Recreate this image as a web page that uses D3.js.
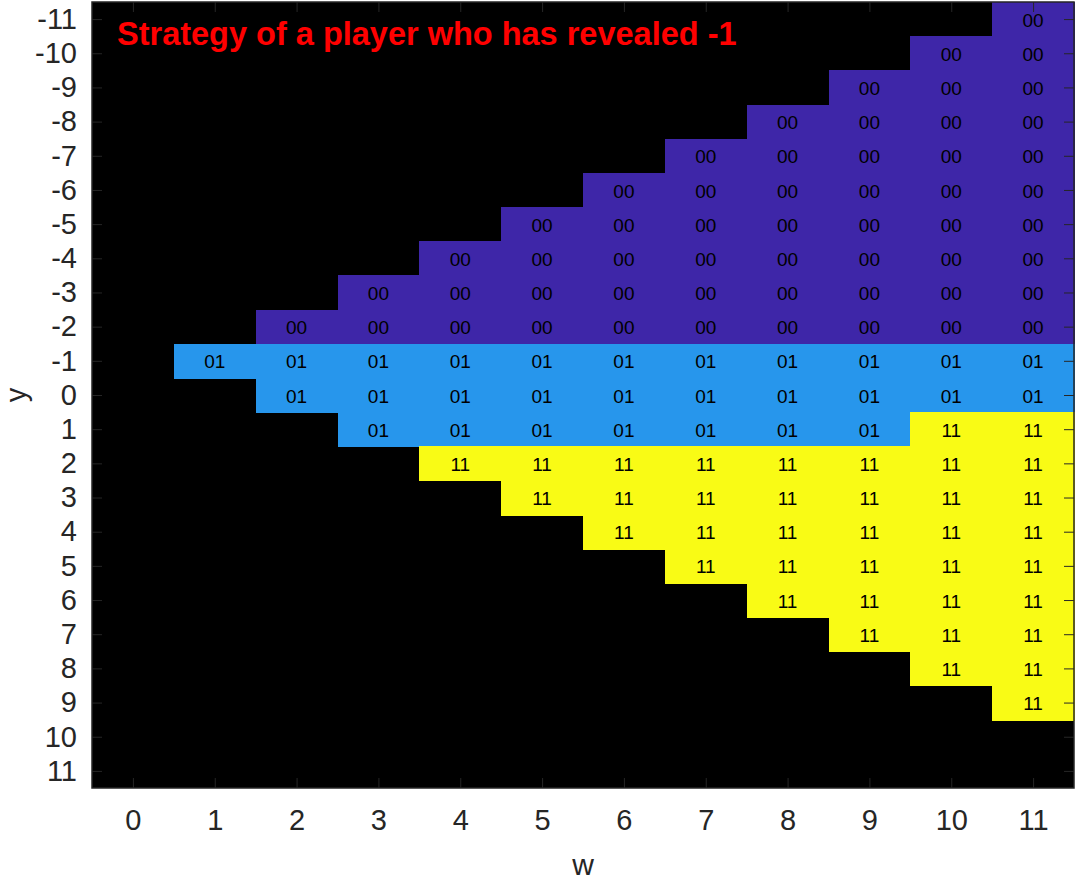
<!DOCTYPE html>
<html>
<head>
<meta charset="utf-8">
<script src="https://cdn.jsdelivr.net/npm/d3@7"></script>
<style>
  body { margin: 0; background: #fff; }
  svg text { font-family: "Liberation Sans", Arial, sans-serif; }
</style>
</head>
<body>
<div id="chart"></div>
<script>
// axis values
const wValues = [0, 1, 2, 3, 4, 5, 6, 7, 8, 9, 10, 11];
const yValues = [-11, -10, -9, -8, -7, -6, -5, -4, -3, -2, -1, 0, 1, 2, 3, 4, 5, 6, 7, 8, 9, 10, 11];

// first y of each column (w), then the codes going down
const colStart = [0, -1, -2, -3, -4, -5, -6, -7, -8, -9, -10, -11];
const colCodes = [
  [],
  ["01"],
  ["00", "01", "01"],
  ["00", "00", "01", "01", "01"],
  ["00", "00", "00", "01", "01", "01", "11"],
  ["00", "00", "00", "00", "01", "01", "01", "11", "11"],
  ["00", "00", "00", "00", "00", "01", "01", "01", "11", "11", "11"],
  ["00", "00", "00", "00", "00", "00", "01", "01", "01", "11", "11", "11", "11"],
  ["00", "00", "00", "00", "00", "00", "00", "01", "01", "01", "11", "11", "11", "11", "11"],
  ["00", "00", "00", "00", "00", "00", "00", "00", "01", "01", "01", "11", "11", "11", "11", "11", "11"],
  ["00", "00", "00", "00", "00", "00", "00", "00", "00", "01", "01", "11", "11", "11", "11", "11", "11", "11", "11"],
  ["00", "00", "00", "00", "00", "00", "00", "00", "00", "00", "01", "01", "11", "11", "11", "11", "11", "11", "11", "11", "11"]
];

const codeKeys = ["00", "01", "11"];
const codeColors = ["#3e26a8", "#2796ec", "#f9fb15"];

const title = "Strategy of a player who has revealed -1";

// build cells
let cells = [];
colCodes.forEach((codes, i) => {
  codes.forEach((c, j) => {
    cells.push({ w: wValues[i], y: colStart[i] + j, code: c });
  });
});

const width = 1076, height = 881;
const margin = { top: 2, right: 2, bottom: 93, left: 92 };
const pw = width - margin.left - margin.right;
const ph = height - margin.top - margin.bottom;

let svg = d3.select("#chart").append("svg")
  .attr("width", width).attr("height", height);

let g = svg.append("g").attr("transform", "translate(" + margin.left + "," + margin.top + ")");

let xScale = d3.scaleLinear().domain([-0.5, 11.5]).range([0, pw]);
let yScale = d3.scaleLinear().domain([-11.5, 11.5]).range([0, ph]);
let colorScale = d3.scaleOrdinal().domain(codeKeys).range(codeColors);

g.append("rect").attr("width", pw).attr("height", ph).attr("fill", "#000");

let cw = xScale(1) - xScale(0);
let ch = yScale(1) - yScale(0);

g.append("g").attr("shape-rendering", "crispEdges")
  .selectAll("rect").data(cells).join("rect")
  .attr("x", d => xScale(d.w - 0.5))
  .attr("y", d => yScale(d.y - 0.5))
  .attr("width", cw + 1)
  .attr("height", ch + 1)
  .attr("fill", d => colorScale(d.code));

g.append("g").selectAll("text").data(cells).join("text")
  .attr("x", d => xScale(d.w))
  .attr("y", d => yScale(d.y))
  .attr("dy", "0.4em")
  .attr("text-anchor", "middle")
  .style("font-size", "19px")
  .style("fill", "#000")
  .text(d => d.code);

// axes (ticks inward, box on)
let tickColor = "#262626";
function styleAxis(sel) {
  sel.select(".domain").remove();
  sel.selectAll("line").attr("stroke", tickColor);
  sel.selectAll("text").style("font-size", "29px").style("fill", tickColor);
}
let plain = d => String(d);

g.append("g").attr("transform", "translate(0," + ph + ")")
  .call(d3.axisBottom(xScale).tickValues(wValues).tickFormat(plain).tickSizeInner(-10).tickSizeOuter(0).tickPadding(21))
  .call(styleAxis);
g.append("g")
  .call(d3.axisTop(xScale).tickValues(wValues).tickSizeInner(-10).tickSizeOuter(0).tickFormat(""))
  .call(styleAxis);
g.append("g")
  .call(d3.axisLeft(yScale).tickValues(yValues).tickFormat(plain).tickSizeInner(-10).tickSizeOuter(0).tickPadding(15))
  .call(styleAxis);
g.append("g").attr("transform", "translate(" + pw + ",0)")
  .call(d3.axisRight(yScale).tickValues(yValues).tickSizeInner(-10).tickSizeOuter(0).tickFormat(""))
  .call(styleAxis);

g.append("rect").attr("width", pw).attr("height", ph)
  .attr("fill", "none").attr("stroke", tickColor).attr("stroke-width", 1.5);

// labels
svg.append("text")
  .attr("x", margin.left + pw / 2).attr("y", 875)
  .attr("text-anchor", "middle")
  .style("font-size", "30px").style("fill", tickColor)
  .text("w");
svg.append("text")
  .attr("transform", "translate(26," + (margin.top + ph / 2) + ") rotate(-90)")
  .attr("text-anchor", "middle")
  .style("font-size", "29px").style("fill", tickColor)
  .text("y");

svg.append("text")
  .attr("x", 117).attr("y", 45)
  .style("font-size", "32.5px").style("font-weight", "bold").style("fill", "#ff0000")
  .text(title);
</script>
</body>
</html>
